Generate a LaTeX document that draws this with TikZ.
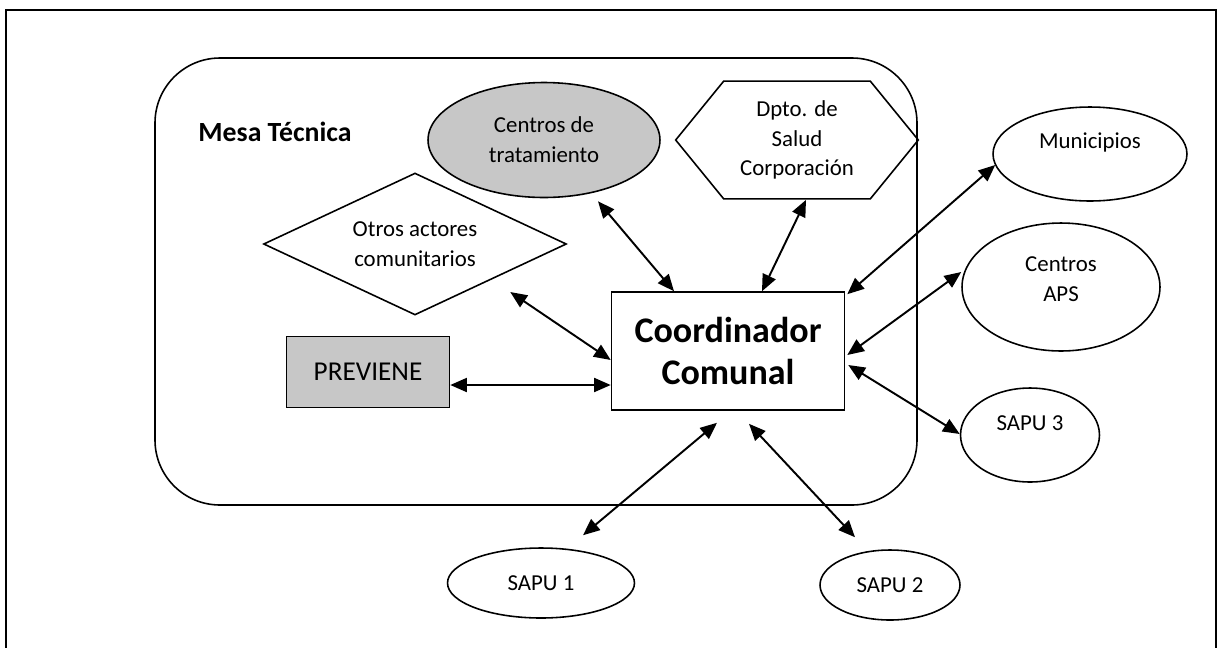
\documentclass[tikz,border=0pt]{standalone}
\usepackage{fontspec}
\setmainfont{Carlito}
\usetikzlibrary{arrows.meta, shapes.geometric, calc}
\tikzset{
    box/.style={draw, line width=0.9pt, inner sep=0pt, align=center}, % 定义方框的样式
    oval/.style={box, ellipse}, % 椭圆
    shaded/.style={fill=black!22}, % 灰色填充
    lifted/.style={text depth=#1}, % 文字上移
    small/.style={font=\fontsize{13}{17}\selectfont}, % 小字
    conn/.style={{Triangle[length=9.5pt,width=8pt]}-{Triangle[length=9.5pt,width=8pt]}, line width=1.1pt} % 双向箭头
}

\begin{document}
\begin{tikzpicture}[x=0.02cm, y=-0.02cm]
    \useasboundingbox (0,0) rectangle (1218,647);
    \draw[line width=0.8pt] (6,660) -- (6,10) -- (1216,10) -- (1216,660);

    % Mesa Tecnica
    \draw[line width=0.9pt, rounded corners=1.3cm] (155,58) rectangle (917,505);
    \node[font=\fontsize{15.8}{19}\bfseries\selectfont] (mesa) at (275,132) {Mesa Técnica};

    \node[box, minimum width=4.66cm, minimum height=2.36cm,
          font=\fontsize{20.5}{23.5}\bfseries\selectfont] (coord) at (728,351) {Coordinador\\Comunal};
    \node[box, shaded, minimum width=3.26cm, minimum height=1.42cm,
          font=\fontsize{15.5}{18}\selectfont] (prev) at (368,372) {PREVIENE};
    \node[box, small, diamond, aspect=2.13, minimum width=6.06cm, minimum height=2.84cm]
          (otros) at (415,244) {Otros actores\\comunitarios};
    \node[oval, small, shaded, minimum width=4.64cm, minimum height=2.30cm]
          (tratam) at (544,140) {Centros de\\tratamiento};
    \node[small, align=center, inner sep=0pt, minimum width=4.84cm, minimum height=2.34cm]
          (dpto) at (797,140) {Dpto. de\\Salud\\Corporación};
    \draw[line width=0.9pt] (dpto.west) -- ($(dpto.north west)+(48,0)$) -- ($(dpto.north east)+(-48,0)$)
          -- (dpto.east) -- ($(dpto.south east)+(-48,0)$) -- ($(dpto.south west)+(48,0)$) -- cycle;

    % fuera de la mesa
    \node[oval, small, lifted=0.55cm, minimum width=3.88cm, minimum height=1.88cm] (muni) at (1090,154) {Municipios};
    \node[oval, small, lifted=0.33cm, minimum width=3.96cm, minimum height=2.56cm] (aps) at (1061,287) {Centros\\APS};
    \node[oval, small, lifted=0.48cm, minimum width=2.78cm, minimum height=1.88cm] (sapu3) at (1030,435) {SAPU 3};
    \node[oval, small, minimum width=2.80cm, minimum height=1.40cm] (sapu2) at (890,585) {SAPU 2};
    \node[oval, small, minimum width=3.74cm, minimum height=1.40cm] (sapu1) at (541,583) {SAPU 1};

    \draw[conn] ($(tratam.south)+(54,3)$) -- ($(coord.north)+(-54,0)$);
    \draw[conn] ($(dpto.south)+(9,1)$) -- ($(coord.north)+(34,0)$);
    \draw[conn] ($(muni.west)+(3,11)$) -- ($(coord.north east)+(2,3)$);
    \draw[conn] ($(aps.west)+(0,-15)$) -- ($(coord.east)+(2,4)$);
    \draw[conn] ($(sapu3.west)+(0,-1)$) -- ($(coord.east)+(3,14)$);
    \draw[conn] ($(otros.east)+(-57,48)$) -- ($(coord.west)+(0,9)$);
    \draw[conn] ($(prev.east)+(0,13)$) -- ($(coord.west)+(0,34)$);
    \draw[conn] ($(sapu1.north)+(42,-12)$) -- ($(coord.south)+(-11,12)$);
    \draw[conn] ($(sapu2.north)+(-35,-12)$) -- ($(coord.south)+(21,13)$);
\end{tikzpicture}
\end{document}
